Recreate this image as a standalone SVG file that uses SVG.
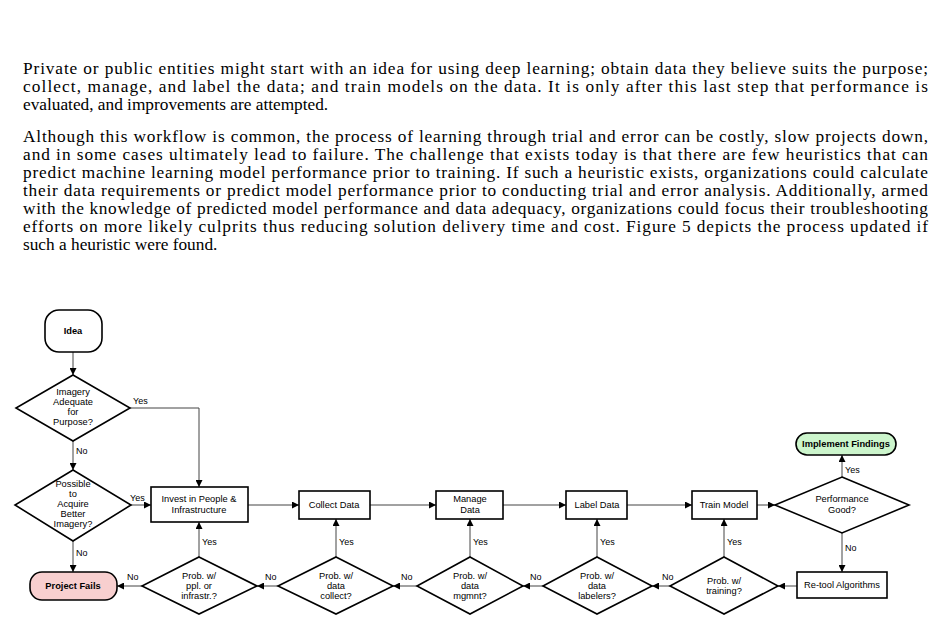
<svg xmlns="http://www.w3.org/2000/svg" width="951" height="620" viewBox="0 0 951 620">
<style>
.p{font-family:"Liberation Serif",serif;font-size:17.3px;fill:#000}
.n{fill:#fff;stroke:#000;stroke-width:1.6}
.t{font-family:"Liberation Sans",Arial,sans-serif;font-size:9.3px;fill:#000;text-anchor:middle}
.b{font-weight:bold}
.l{font-family:"Liberation Sans",Arial,sans-serif;font-size:9px;fill:#000}
.c{fill:none;stroke:#444;stroke-width:1}
</style>
<defs><marker id="a" viewBox="0 0 10 10" refX="10" refY="5" markerWidth="7" markerHeight="7" orient="auto"><path d="M0,0L10,5L0,10z" fill="#000"/></marker></defs>
<rect width="951" height="620" fill="#fff"/>
<g id="text">
<text class="p" x="23" y="74" textLength="905" lengthAdjust="spacing">Private or public entities might start with an idea for using deep learning; obtain data they believe suits the purpose;</text>
<text class="p" x="23" y="92" textLength="905" lengthAdjust="spacing">collect, manage, and label the data; and train models on the data. It is only after this last step that performance is</text>
<text class="p" x="23" y="110">evaluated, and improvements are attempted.</text>
<text class="p" x="23" y="142" textLength="905" lengthAdjust="spacing">Although this workflow is common, the process of learning through trial and error can be costly, slow projects down,</text>
<text class="p" x="23" y="160" textLength="905" lengthAdjust="spacing">and in some cases ultimately lead to failure. The challenge that exists today is that there are few heuristics that can</text>
<text class="p" x="23" y="178" textLength="905" lengthAdjust="spacing">predict machine learning model performance prior to training. If such a heuristic exists, organizations could calculate</text>
<text class="p" x="23" y="196" textLength="905" lengthAdjust="spacing">their data requirements or predict model performance prior to conducting trial and error analysis. Additionally, armed</text>
<text class="p" x="23" y="214" textLength="905" lengthAdjust="spacing">with the knowledge of predicted model performance and data adequacy, organizations could focus their troubleshooting</text>
<text class="p" x="23" y="232" textLength="905" lengthAdjust="spacing">efforts on more likely culprits thus reducing solution delivery time and cost. Figure 5 depicts the process updated if</text>
<text class="p" x="23" y="250">such a heuristic were found.</text>
</g>
<g id="connectors">
<path class="c" d="M73,352V375" marker-end="url(#a)"/>
<path class="c" d="M130,408H199V487" marker-end="url(#a)"/>
<path class="c" d="M73,441V470" marker-end="url(#a)"/>
<path class="c" d="M131,505H151" marker-end="url(#a)"/>
<path class="c" d="M73,541V572" marker-end="url(#a)"/>
<path class="c" d="M248,505H299" marker-end="url(#a)"/>
<path class="c" d="M370,505H436" marker-end="url(#a)"/>
<path class="c" d="M503,505H566" marker-end="url(#a)"/>
<path class="c" d="M627,505H692" marker-end="url(#a)"/>
<path class="c" d="M757,505H775" marker-end="url(#a)"/>
<path class="c" d="M842,477V455" marker-end="url(#a)"/>
<path class="c" d="M842,533V572" marker-end="url(#a)"/>
<path class="c" d="M797,586H778" marker-end="url(#a)"/>
<path class="c" d="M670,586H652" marker-end="url(#a)"/>
<path class="c" d="M543,586H523" marker-end="url(#a)"/>
<path class="c" d="M417,586H393" marker-end="url(#a)"/>
<path class="c" d="M278,586H257" marker-end="url(#a)"/>
<path class="c" d="M142,586H117" marker-end="url(#a)"/>
<path class="c" d="M199,557V522" marker-end="url(#a)"/>
<path class="c" d="M336,557V519" marker-end="url(#a)"/>
<path class="c" d="M470,557V519" marker-end="url(#a)"/>
<path class="c" d="M597,557V519" marker-end="url(#a)"/>
<path class="c" d="M724,557V519" marker-end="url(#a)"/>
<text class="l" x="133" y="404">Yes</text>
<text class="l" x="76" y="454">No</text>
<text class="l" x="130" y="501">Yes</text>
<text class="l" x="76" y="556">No</text>
<text class="l" x="202" y="545">Yes</text>
<text class="l" x="339" y="545">Yes</text>
<text class="l" x="473" y="545">Yes</text>
<text class="l" x="600" y="545">Yes</text>
<text class="l" x="727" y="545">Yes</text>
<text class="l" x="845" y="473">Yes</text>
<text class="l" x="845" y="551">No</text>
<text class="l" x="127" y="580">No</text>
<text class="l" x="265" y="580">No</text>
<text class="l" x="401" y="580">No</text>
<text class="l" x="530" y="580">No</text>
<text class="l" x="662" y="580">No</text>
</g>
<g id="idea"><rect class="n" x="45" y="310" width="57" height="42" rx="14"/><text class="t b" x="73" y="334">Idea</text></g>
<g id="d1"><path class="n" d="M73,375L130,408L73,441L16,408z"/><text class="t"><tspan x="73" y="395">Imagery</tspan><tspan x="73" y="405">Adequate</tspan><tspan x="73" y="415">for</tspan><tspan x="73" y="425">Purpose?</tspan></text></g>
<g id="d2"><path class="n" d="M73,470L131,505L73,541L15,505z"/><text class="t"><tspan x="73" y="487">Possible</tspan><tspan x="73" y="497">to</tspan><tspan x="73" y="507">Acquire</tspan><tspan x="73" y="517">Better</tspan><tspan x="73" y="527">Imagery?</tspan></text></g>
<g id="fails"><rect x="30" y="572" width="87" height="28" rx="12" fill="#f8cfcf" stroke="#000" stroke-width="1.6"/><text class="t b" x="73" y="589">Project Fails</text></g>
<g id="invest"><rect class="n" x="151" y="487" width="97" height="35"/><text class="t"><tspan x="199" y="502">Invest in People &amp;</tspan><tspan x="199" y="513">Infrastructure</tspan></text></g>
<g id="collect"><rect class="n" x="299" y="491" width="71" height="28"/><text class="t" x="334" y="508">Collect Data</text></g>
<g id="manage"><rect class="n" x="436" y="491" width="67" height="28"/><text class="t"><tspan x="470" y="502">Manage</tspan><tspan x="470" y="513">Data</tspan></text></g>
<g id="label"><rect class="n" x="566" y="491" width="61" height="28"/><text class="t" x="597" y="508">Label Data</text></g>
<g id="train"><rect class="n" x="692" y="491" width="65" height="28"/><text class="t" x="724" y="508">Train Model</text></g>
<g id="perf"><path class="n" d="M842,477L909,505L842,533L775,505z"/><text class="t"><tspan x="842" y="502">Performance</tspan><tspan x="842" y="513">Good?</tspan></text></g>
<g id="impl"><rect x="796" y="433" width="100" height="22" rx="11" fill="#ccf5cc" stroke="#000" stroke-width="1.6"/><text class="t b" x="846" y="447">Implement Findings</text></g>
<g id="retool"><rect class="n" x="797" y="572" width="90" height="26"/><text class="t" x="842" y="588">Re-tool Algorithms</text></g>
<g id="q1"><path class="n" d="M199,557L257,586L199,614L142,586z"/><text class="t"><tspan x="199" y="579">Prob. w/</tspan><tspan x="199" y="589">ppl. or</tspan><tspan x="199" y="599">infrastr.?</tspan></text></g>
<g id="q2"><path class="n" d="M336,557L393,586L336,614L278,586z"/><text class="t"><tspan x="336" y="579">Prob. w/</tspan><tspan x="336" y="589">data</tspan><tspan x="336" y="599">collect?</tspan></text></g>
<g id="q3"><path class="n" d="M470,557L523,586L470,614L417,586z"/><text class="t"><tspan x="470" y="579">Prob. w/</tspan><tspan x="470" y="589">data</tspan><tspan x="470" y="599">mgmnt?</tspan></text></g>
<g id="q4"><path class="n" d="M597,557L652,586L597,614L543,586z"/><text class="t"><tspan x="597" y="579">Prob. w/</tspan><tspan x="597" y="589">data</tspan><tspan x="597" y="599">labelers?</tspan></text></g>
<g id="q5"><path class="n" d="M724,557L778,586L724,614L670,586z"/><text class="t"><tspan x="724" y="584">Prob. w/</tspan><tspan x="724" y="594">training?</tspan></text></g>
</svg>
